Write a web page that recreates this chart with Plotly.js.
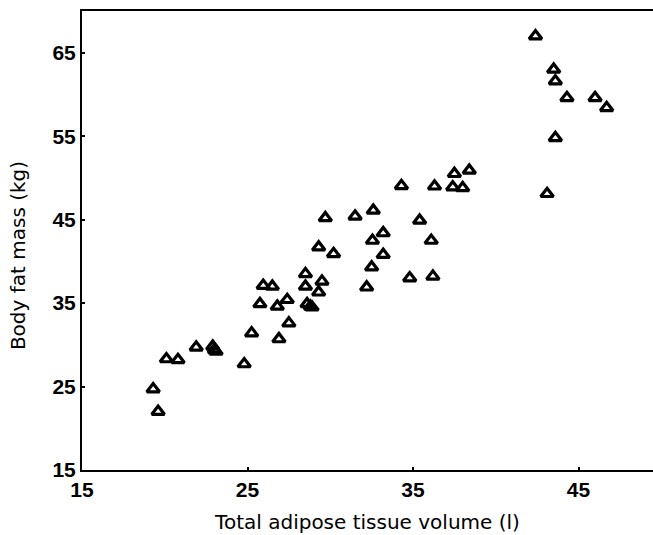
<!DOCTYPE html>
<html>
<head>
<meta charset="utf-8">
<script src="https://cdn.plot.ly/plotly-3.0.1.min.js"></script>
<style>html,body{margin:0;padding:0;background:#fff;}#chart{width:653px;height:535px;}</style>
</head>
<body>
<div id="chart"></div>
<script>
// Total adipose tissue volume (l)
const volume = [19.3, 19.6, 20.1, 20.8, 21.9, 22.9, 23.0, 23.1, 24.8, 25.25,
  26.9, 27.5, 25.75, 26.8, 27.4, 25.95, 26.5, 28.6, 28.8, 28.9,
  28.5, 29.3, 29.5, 28.5, 29.7, 31.5, 32.6, 29.3, 30.2, 32.55,
  33.2, 33.2, 32.5, 32.2, 34.3, 36.3, 37.5, 38.4, 37.4, 38.0,
  35.4, 36.1, 34.8, 36.2, 42.4, 43.5, 43.6, 44.3, 46.0, 46.7,
  43.6, 43.1];
// Body fat mass (kg)
const fatMass = [24.7, 22.0, 28.3, 28.2, 29.7, 29.8, 29.4, 29.2, 27.7, 31.4,
  30.7, 32.6, 34.9, 34.6, 35.4, 37.1, 37.0, 34.9, 34.6, 34.5,
  37.0, 36.3, 37.6, 38.5, 45.2, 45.4, 46.1, 41.7, 40.9, 42.5,
  43.4, 40.8, 39.3, 36.9, 49.05, 49.0, 50.5, 50.9, 48.9, 48.8,
  44.9, 42.5, 38.0, 38.2, 67.0, 63.0, 61.6, 59.6, 59.6, 58.4,
  54.8, 48.1];
const xTicks = [15, 25, 35, 45];
const yTicks = [15, 25, 35, 45, 55, 65];

const titleFam = 'DejaVu Sans, Verdana, sans-serif';
const tickFam = 'Liberation Sans, Arial, Helvetica, sans-serif';
const tickFont = {family: tickFam, size: 21, color: '#000', weight: 'bold'};

const trace = {
  x: volume,
  y: fatMass,
  mode: 'markers',
  type: 'scatter',
  marker: {
    symbol: 'triangle-up-open',
    size: 11,
    color: '#000',
    line: {width: 3.2, color: '#000'}
  },
  hoverinfo: 'x+y'
};

const layout = {
  width: 653,
  height: 535,
  margin: {l: 82, r: 0, t: 11, b: 65},
  paper_bgcolor: '#fff',
  plot_bgcolor: '#fff',
  showlegend: false,
  font: {family: titleFam, size: 19, color: '#000'},
  xaxis: {
    range: [15, 49.5],
    tickvals: xTicks,
    ticktext: xTicks.map(String),
    ticks: 'inside',
    ticklen: 3,
    tickwidth: 2,
    tickcolor: '#000',
    showline: true,
    linecolor: '#000',
    linewidth: 2,
    mirror: true,
    showgrid: false,
    zeroline: false,
    tickfont: tickFont,
    title: {text: 'Total adipose tissue volume (l)', font: {family: titleFam, size: 20, color: '#000'}, standoff: 15}
  },
  yaxis: {
    range: [15, 70],
    tickvals: yTicks,
    ticktext: yTicks.map(String),
    ticks: 'inside',
    ticklen: 3,
    tickwidth: 2,
    tickcolor: '#000',
    showline: true,
    linecolor: '#000',
    linewidth: 2,
    mirror: false,
    showgrid: false,
    zeroline: false,
    tickfont: tickFont
  },
  annotations: [{
    text: 'Body fat mass (kg)',
    xref: 'paper', yref: 'paper',
    x: 0, y: 0.466,
    xshift: -64,
    xanchor: 'center', yanchor: 'middle',
    textangle: -90,
    showarrow: false,
    font: {family: titleFam, size: 20, color: '#000'}
  }]
};

Plotly.newPlot('chart', [trace], layout, {displayModeBar: false, staticPlot: true});
</script>
</body>
</html>
